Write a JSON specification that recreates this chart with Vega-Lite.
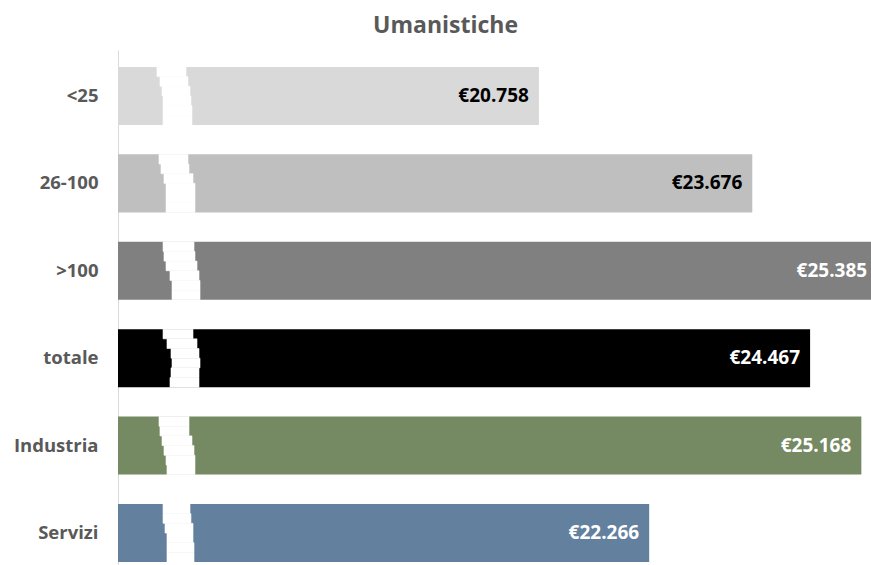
{
  "$schema": "https://vega.github.io/schema/vega-lite/v6.json",
  "width": 753,
  "height": 515,
  "autosize": "none",
  "padding": {"left": 118, "top": 50, "right": 0, "bottom": 0},
  "background": "white",
  "config": {"view": {"stroke": null}, "font": "Open Sans"},
  "title": {
    "text": "Umanistiche",
    "font": "Open Sans",
    "fontSize": 23,
    "fontWeight": "bold",
    "color": "#595959",
    "anchor": "middle",
    "dx": -49,
    "offset": 12
  },
  "datasets": {
    "bars": [
      {"cat": "<25", "value": 20758, "label": "€20.758", "txt": "black"},
      {"cat": "26-100", "value": 23676, "label": "€23.676", "txt": "black"},
      {"cat": ">100", "value": 25385, "label": "€25.385", "txt": "white"},
      {"cat": "totale", "value": 24467, "label": "€24.467", "txt": "white"},
      {"cat": "Industria", "value": 25168, "label": "€25.168", "txt": "white"},
      {"cat": "Servizi", "value": 22266, "label": "€22.266", "txt": "white"}
    ],
    "gap": [
      {"cat": "<25", "s": 1, "a": 15533, "b": 15930},
      {"cat": "<25", "s": 2, "a": 15574, "b": 15957},
      {"cat": "<25", "s": 3, "a": 15602, "b": 15985},
      {"cat": "<25", "s": 4, "a": 15616, "b": 15998},
      {"cat": "<25", "s": 5, "a": 15616, "b": 16012},
      {"cat": "<25", "s": 6, "a": 15616, "b": 16012},
      {"cat": "26-100", "s": 1, "a": 15561, "b": 15957},
      {"cat": "26-100", "s": 2, "a": 15588, "b": 15971},
      {"cat": "26-100", "s": 3, "a": 15629, "b": 16026},
      {"cat": "26-100", "s": 4, "a": 15657, "b": 16053},
      {"cat": "26-100", "s": 5, "a": 15657, "b": 16053},
      {"cat": "26-100", "s": 6, "a": 15657, "b": 16053},
      {"cat": ">100", "s": 1, "a": 15616, "b": 16040},
      {"cat": ">100", "s": 2, "a": 15629, "b": 16053},
      {"cat": ">100", "s": 3, "a": 15657, "b": 16081},
      {"cat": ">100", "s": 4, "a": 15711, "b": 16108},
      {"cat": ">100", "s": 5, "a": 15739, "b": 16122},
      {"cat": ">100", "s": 6, "a": 15739, "b": 16122},
      {"cat": "totale", "s": 1, "a": 15616, "b": 16026},
      {"cat": "totale", "s": 2, "a": 15670, "b": 16081},
      {"cat": "totale", "s": 3, "a": 15725, "b": 16108},
      {"cat": "totale", "s": 4, "a": 15739, "b": 16122},
      {"cat": "totale", "s": 5, "a": 15725, "b": 16108},
      {"cat": "totale", "s": 6, "a": 15711, "b": 16108},
      {"cat": "Industria", "s": 1, "a": 15561, "b": 15971},
      {"cat": "Industria", "s": 2, "a": 15574, "b": 15971},
      {"cat": "Industria", "s": 3, "a": 15602, "b": 16012},
      {"cat": "Industria", "s": 4, "a": 15629, "b": 16040},
      {"cat": "Industria", "s": 5, "a": 15657, "b": 16053},
      {"cat": "Industria", "s": 6, "a": 15670, "b": 16053},
      {"cat": "Servizi", "s": 1, "a": 15616, "b": 15985},
      {"cat": "Servizi", "s": 2, "a": 15616, "b": 15998},
      {"cat": "Servizi", "s": 3, "a": 15643, "b": 16026},
      {"cat": "Servizi", "s": 4, "a": 15670, "b": 16026},
      {"cat": "Servizi", "s": 5, "a": 15670, "b": 16040},
      {"cat": "Servizi", "s": 6, "a": 15670, "b": 16040}
    ]
  },
  "encoding": {
    "y": {
      "field": "cat",
      "type": "nominal",
      "sort": ["<25", "26-100", ">100", "totale", "Industria", "Servizi"],
      "scale": {"paddingInner": 0.336, "paddingOuter": 0.114, "align": 0.85},
      "axis": {
        "title": null,
        "ticks": false,
        "domain": true,
        "domainColor": "#d9d9d9",
        "domainWidth": 1,
        "labelFont": "Open Sans",
        "labelFontSize": 18.5,
        "labelFontWeight": "bold",
        "labelColor": "#595959",
        "labelPadding": 20
      }
    }
  },
  "layer": [
    {
      "data": {"name": "bars"},
      "mark": {"type": "bar", "clip": true},
      "encoding": {
        "x": {
          "field": "value",
          "type": "quantitative",
          "scale": {"domain": [15000, 25300], "zero": false, "nice": false},
          "axis": null
        },
        "color": {
          "field": "cat",
          "type": "nominal",
          "scale": {
            "domain": ["<25", "26-100", ">100", "totale", "Industria", "Servizi"],
            "range": ["#d9d9d9", "#bfbfbf", "#808080", "#000000", "#758a62", "#64809f"]
          },
          "legend": null
        }
      }
    },
    {
      "data": {"name": "gap"},
      "mark": {"type": "bar", "color": "white", "stroke": "white", "strokeWidth": 0.6},
      "encoding": {
        "x": {"field": "a", "type": "quantitative"},
        "x2": {"field": "b"},
        "yOffset": {
          "field": "s",
          "type": "ordinal",
          "scale": {"paddingInner": 0, "paddingOuter": 0}
        }
      }
    },
    {
      "data": {"name": "bars"},
      "mark": {
        "type": "text",
        "align": "right",
        "baseline": "middle",
        "dx": -10,
        "font": "Open Sans",
        "fontSize": 19,
        "fontWeight": "bold",
        "clip": false
      },
      "encoding": {
        "x": {"field": "value", "type": "quantitative"},
        "text": {"field": "label"},
        "color": {"field": "txt", "type": "nominal", "scale": null}
      }
    }
  ]
}
